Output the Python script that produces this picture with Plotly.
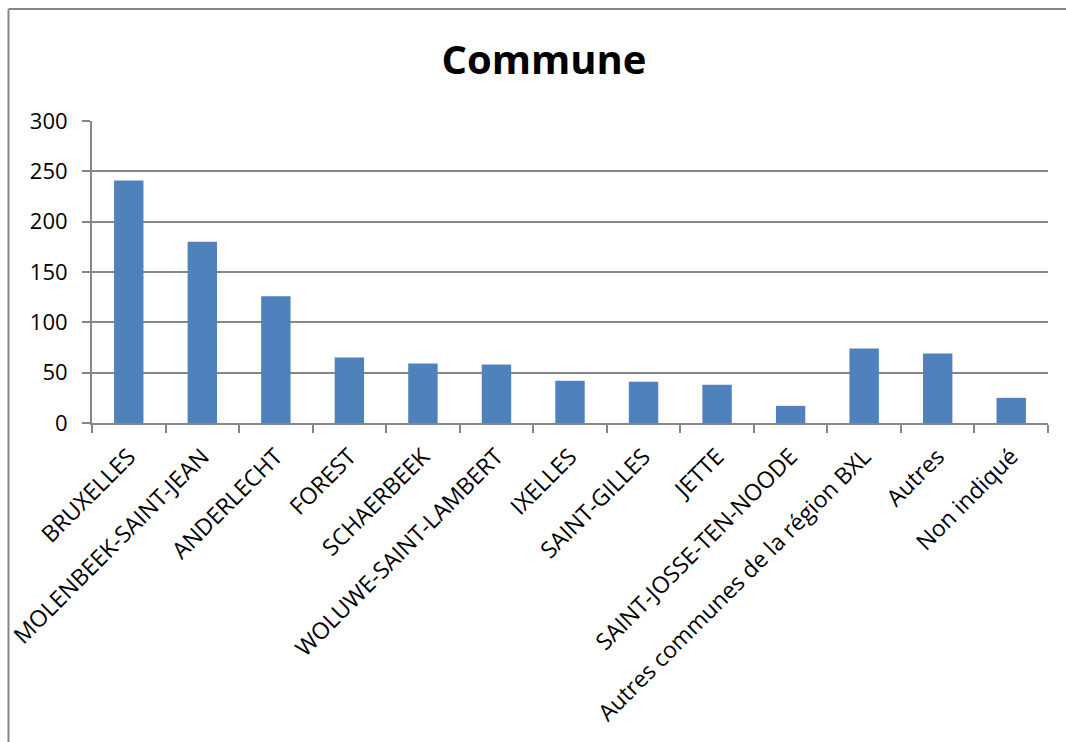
import plotly.graph_objects as go

categories = ["BRUXELLES", "MOLENBEEK-SAINT-JEAN", "ANDERLECHT", "FOREST", "SCHAERBEEK",
              "WOLUWE-SAINT-LAMBERT", "IXELLES", "SAINT-GILLES", "JETTE",
              "SAINT-JOSSE-TEN-NOODE", "Autres communes de la région BXL", "Autres", "Non indiqué"]
values = [241, 180, 126, 65, 59, 58, 42, 41, 38, 17, 74, 69, 25]
y_ticks = [0, 50, 100, 150, 200, 250, 300]

W, H = 1066, 742
ml, mr, mt, mb = 92, 18, 121, 319
pw, ph = W - ml - mr, H - mt - mb

def px_x(x):
    return (x - ml) / pw

def px_y(y):
    return 1 - (y - mt) / ph

fig = go.Figure(go.Bar(x=categories, y=values, marker=dict(color="#4F81BD", line=dict(width=0)),
                       width=0.4))

fig.update_layout(
    width=W, height=H,
    margin=dict(l=ml, r=mr, t=mt, b=mb),
    paper_bgcolor="white", plot_bgcolor="white",
    font=dict(family="Open Sans, Liberation Sans, sans-serif", color="black"),
    title=dict(text="<b>Commune</b>", x=px_x(544), xref="paper", xanchor="center",
               y=1 - 60 / H, yanchor="middle", font=dict(size=40, color="black")),
    showlegend=False,
    bargap=0.6,
)
fig.update_xaxes(
    type="category", tickangle=-45, tickfont=dict(size=23),
    showline=True, linecolor="#868686", linewidth=2,
    ticks="outside", tickson="boundaries", ticklen=8, tickcolor="#868686", tickwidth=2,
    showgrid=False, ticklabelstandoff=9, automargin=False,
)
fig.update_yaxes(
    range=[0, 300], tickvals=y_ticks, tickfont=dict(size=22),
    showline=True, linecolor="#868686", linewidth=2,
    ticks="outside", ticklen=8, tickcolor="#868686", tickwidth=2,
    showgrid=True, gridcolor="#868686", gridwidth=2, zeroline=False,
    ticklabelstandoff=10, automargin=False,
)

# outer chart frame (partially visible: top and left edges)
fig.add_shape(type="line", xref="paper", yref="paper",
              x0=px_x(8.5), x1=px_x(1066), y0=px_y(9), y1=px_y(9),
              line=dict(color="#868686", width=2))
fig.add_shape(type="line", xref="paper", yref="paper",
              x0=px_x(8.5), x1=px_x(8.5), y0=px_y(9), y1=px_y(742),
              line=dict(color="#868686", width=2))

fig.write_html("out.html")
